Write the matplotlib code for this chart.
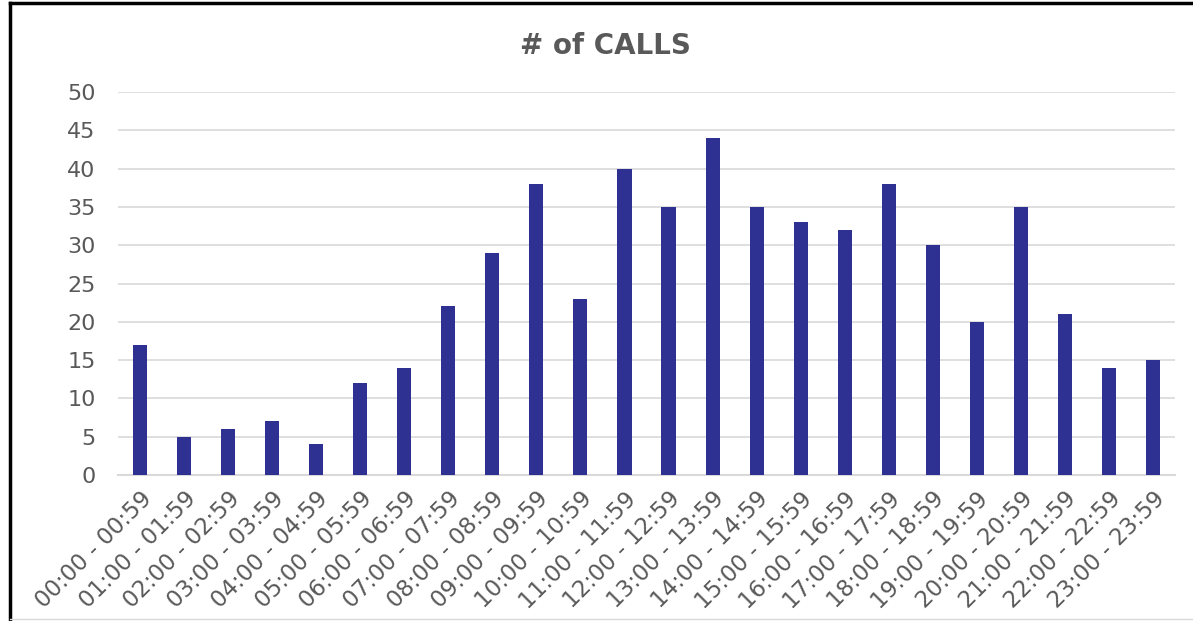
import matplotlib
matplotlib.use("Agg")
import matplotlib.pyplot as plt
from matplotlib.lines import Line2D

categories = [f"{h:02d}:00 - {h:02d}:59" for h in range(24)]
calls = [17, 5, 6, 7, 4, 12, 14, 22, 29, 38, 23, 40, 35, 44, 35, 33, 32, 38, 30, 20, 35, 21, 14, 15]
yticks = [0, 5, 10, 15, 20, 25, 30, 35, 40, 45, 50]

plt.rcParams['font.family'] = ['DejaVu Sans']

fig = plt.figure(figsize=(11.93, 6.21), dpi=100)
ax = fig.add_axes([118/1193, 1-475/621, (1175-118)/1193, (475-92)/621])

x = list(range(len(categories)))
ax.bar(x, calls, width=0.32, color='#2E3092', zorder=3)

ax.set_xlim(-0.5, len(categories) - 0.5)
ax.set_ylim(0, 50)
ax.set_yticks(yticks)
ax.set_xticks(x)
ax.set_xticklabels(categories, rotation=45, ha='right', rotation_mode='anchor')
ax.tick_params(axis='both', length=0, colors='#595959')
ax.tick_params(axis='y', pad=16, labelsize=16)
ax.tick_params(axis='x', pad=9, labelsize=16.5)
ax.grid(axis='y', color='#D9D9D9', linewidth=1.2, zorder=0)
for s in ['top', 'right', 'left']:
    ax.spines[s].set_visible(False)
ax.spines['bottom'].set_color('#D9D9D9')
ax.spines['bottom'].set_linewidth(1.5)

fig.text(0.5075, 1-46/621, '# of CALLS', ha='center', va='center', fontsize=20,
         color='#595959', fontweight='bold')

# outer frame
fig.add_artist(Line2D([10/1193, 10/1193], [0, 1-3/621], transform=fig.transFigure, color='black', lw=2.5))
fig.add_artist(Line2D([10/1193, 1], [1-3/621, 1-3/621], transform=fig.transFigure, color='black', lw=2.5))
fig.add_artist(Line2D([10/1193, 1], [1-619/621, 1-619/621], transform=fig.transFigure, color='#D9D9D9', lw=1))

fig.savefig('out.png', dpi=100)
